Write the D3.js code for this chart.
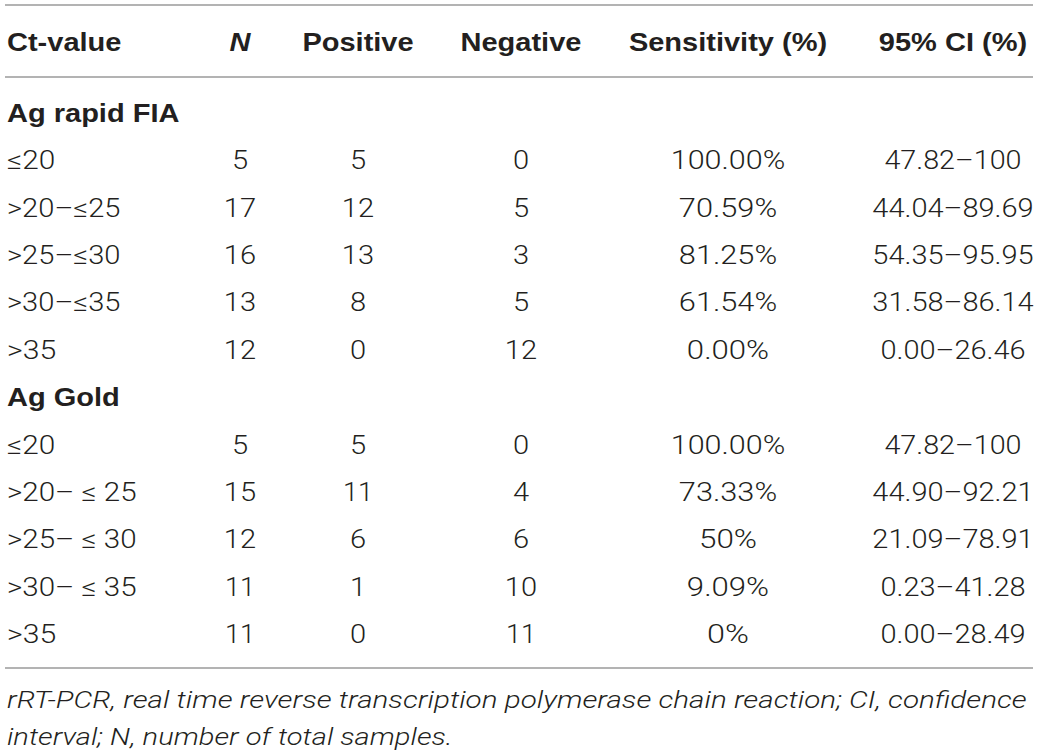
<!DOCTYPE html>
<html>
<head>
<meta charset="utf-8">
<script src="https://cdn.jsdelivr.net/npm/d3@7"></script>
<style>
  html, body { margin: 0; padding: 0; background: #fff; }
  svg { display: block; }
</style>
</head>
<body>
<svg id="chart" width="1040" height="754"></svg>
<script>
// ---- data ----
const columns = ["Ct-value", "N", "Positive", "Negative", "Sensitivity (%)", "95% CI (%)"];
const groups = ["Ag rapid FIA", "Ag Gold"];
const ctFIA = ["≤20", ">20–≤25", ">25–≤30", ">30–≤35", ">35"];
const nFIA = [5, 17, 16, 13, 12];
const posFIA = [5, 12, 13, 8, 0];
const negFIA = [0, 5, 3, 5, 12];
const sensFIA = ["100.00%", "70.59%", "81.25%", "61.54%", "0.00%"];
const ciFIA = ["47.82–100", "44.04–89.69", "54.35–95.95", "31.58–86.14", "0.00–26.46"];
const ctGold = ["≤20", ">20– ≤ 25", ">25– ≤ 30", ">30– ≤ 35", ">35"];
const nGold = [5, 15, 12, 11, 11];
const posGold = [5, 11, 6, 1, 0];
const negGold = [0, 4, 6, 10, 11];
const sensGold = ["100.00%", "73.33%", "50%", "9.09%", "0%"];
const ciGold = ["47.82–100", "44.90–92.21", "21.09–78.91", "0.23–41.28", "0.00–28.49"];
const footnote = [
  "rRT-PCR, real time reverse transcription polymerase chain reaction; CI, confidence",
  "interval; N, number of total samples."
];

// ---- build rows ----
const rows = [];
const groupData = [
  [ctFIA, nFIA, posFIA, negFIA, sensFIA, ciFIA],
  [ctGold, nGold, posGold, negGold, sensGold, ciGold]
];
groups.forEach((g, gi) => {
  rows.push({ type: "group", label: g });
  const [ct, n, p, ng, s, ci] = groupData[gi];
  ct.forEach((c, i) => rows.push({ type: "data", cells: [c, n[i], p[i], ng[i], s[i], ci[i]] }));
});

// ---- layout ----
const svg = d3.select("#chart");
const textColor = "#231f20";
const lineColor = "#9a9a9a";
const metricFont = "'Liberation Sans', Arial, sans-serif";   // Helvetica-like metrics
const lightFont = "'Roboto', 'Liberation Sans', sans-serif";  // light display face
const FS = 25;       // font size
const SX = 1.16;     // horizontal stretch of the original image

const y = d3.scaleLinear().domain([0, rows.length - 1]).range([122, 643]);
const xCol = d3.scaleOrdinal().domain(d3.range(1, 6)).range([240, 358, 521, 728, 953]);
const xLeft = 7;

// draw a text whose width follows Helvetica metrics, stretched horizontally
function drawText(g, str, x, yy, anchor, o) {
  const t = g.append("text")
    .attr("font-family", metricFont)
    .attr("font-size", o.size || FS)
    .attr("font-weight", o.bold ? "bold" : "normal")
    .attr("font-style", o.italic ? "italic" : "normal")
    .attr("fill", textColor)
    .attr("y", yy)
    .text(str);
  const L = t.node().getComputedTextLength() * SX;
  const x0 = anchor === "middle" ? x - L / 2 : x;
  t.attr("x", x0)
   .attr("textLength", L)
   .attr("lengthAdjust", "spacingAndGlyphs");
  if (!o.bold) t.attr("font-family", lightFont).attr("font-weight", 300);
  return t;
}

// rules
const rules = [5, 77, 668];
svg.selectAll("line.rule").data(rules).join("line")
  .attr("class", "rule")
  .attr("x1", 5).attr("x2", 1033)
  .attr("y1", d => d).attr("y2", d => d)
  .attr("stroke", lineColor).attr("stroke-width", 1.5);

// header
const head = svg.append("g");
columns.forEach((c, i) => {
  drawText(head, c, i === 0 ? xLeft : xCol(i), 51, i === 0 ? "start" : "middle",
    { bold: true, italic: i === 1 });
});

// body rows
const body = svg.append("g");
rows.forEach((r, ri) => {
  if (r.type === "group") {
    drawText(body, r.label, xLeft, y(ri), "start", { bold: true });
  } else {
    r.cells.forEach((c, ci) => {
      drawText(body, String(c), ci === 0 ? xLeft : xCol(ci), y(ri),
        ci === 0 ? "start" : "middle", {});
    });
  }
});

// footnote
const foot = svg.append("g");
footnote.forEach((f, i) => drawText(foot, f, xLeft, 708 + i * 37, "start", { italic: true, size: 24 }));
</script>
</body>
</html>
